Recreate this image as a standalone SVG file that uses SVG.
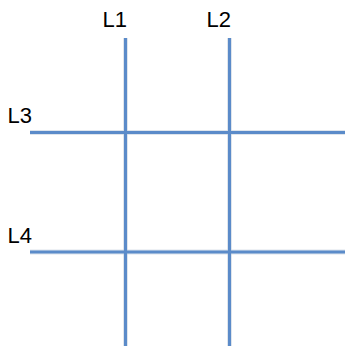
<svg xmlns="http://www.w3.org/2000/svg" width="345" height="347" viewBox="0 0 345 347">
<style>
.ln{stroke:#5b8bc9;stroke-width:3;fill:none}
.sh{stroke:#c9d3df;stroke-width:5;fill:none;opacity:0.6}
.lb{font-family:"Liberation Sans",Arial,sans-serif;font-size:22px;fill:#000}
</style>
<rect width="345" height="347" fill="#fff"/>
<g id="connectors">
<line class="sh" x1="125.5" y1="38" x2="125.5" y2="346"/>
<line class="sh" x1="229.5" y1="38" x2="229.5" y2="346"/>
<line class="sh" x1="30" y1="132.5" x2="345" y2="132.5"/>
<line class="sh" x1="30" y1="252" x2="345" y2="252"/>
<line class="ln" x1="125.5" y1="38" x2="125.5" y2="346"/>
<line class="ln" x1="229.5" y1="38" x2="229.5" y2="346"/>
<line class="ln" x1="30" y1="132.5" x2="345" y2="132.5"/>
<line class="ln" x1="30" y1="252" x2="345" y2="252"/>
</g>
<g id="L1"><text class="lb" x="102.5" y="27">L1</text></g>
<g id="L2"><text class="lb" x="206.5" y="27">L2</text></g>
<g id="L3"><text class="lb" x="7.5" y="123.3">L3</text></g>
<g id="L4"><text class="lb" x="7.5" y="243">L4</text></g>
</svg>
